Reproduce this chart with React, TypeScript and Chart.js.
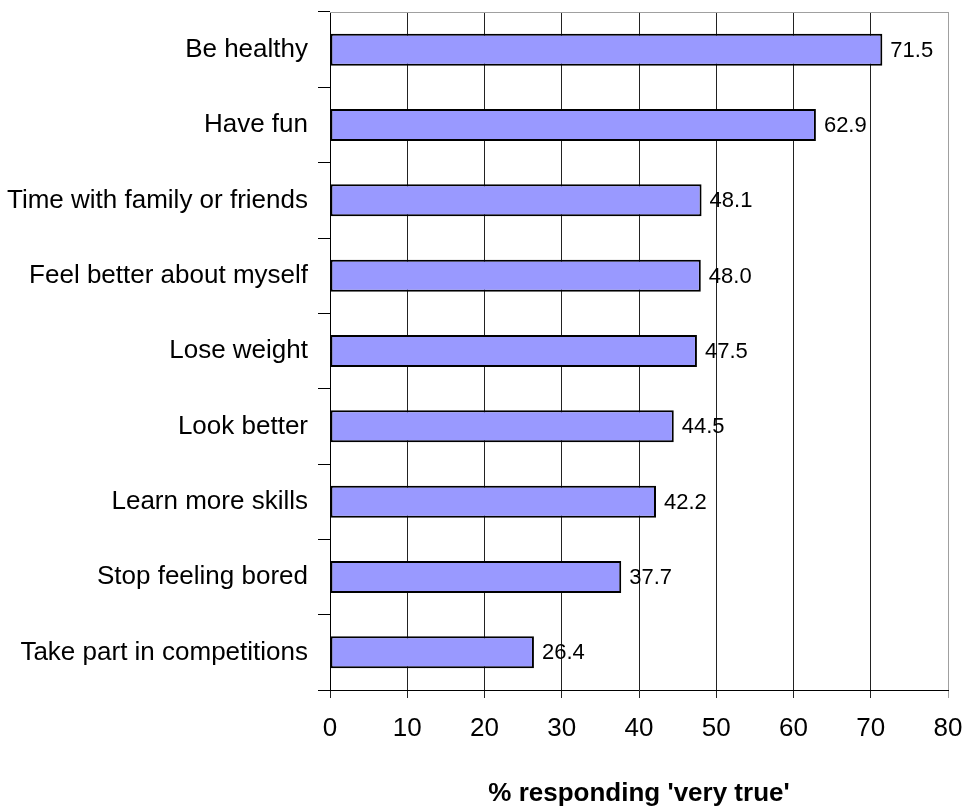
import React, { useEffect, useRef } from "react";
import { Chart, registerables } from "chart.js";

Chart.register(...registerables);

// Reasons for taking part, top to bottom
const categories = [
  "Be healthy",
  "Have fun",
  "Time with family or friends",
  "Feel better about myself",
  "Lose weight",
  "Look better",
  "Learn more skills",
  "Stop feeling bored",
  "Take part in competitions",
];

// Share of respondents answering 'very true' (%)
const percentVeryTrue = [71.5, 62.9, 48.1, 48.0, 47.5, 44.5, 42.2, 37.7, 26.4];

// Horizontal axis range and step
const xMin = 0;
const xMax = 80;
const xStep = 10;

const xAxisTitle = "% responding 'very true'";

const FONT = "'Liberation Sans', Arial, Helvetica, sans-serif";

// Writes each bar's value just past its end
const valueLabels = {
  id: "valueLabels",
  afterDatasetsDraw(chart: any) {
    const { ctx } = chart;
    const meta = chart.getDatasetMeta(0);
    ctx.save();
    ctx.font = `22px ${FONT}`;
    ctx.fillStyle = "#000";
    ctx.textAlign = "left";
    ctx.textBaseline = "middle";
    meta.data.forEach((bar: any, i: number) => {
      const v = chart.data.datasets[0].data[i] as number;
      ctx.fillText(v.toFixed(1), bar.x + 8, bar.y + 1);
    });
    ctx.restore();
  },
};

// Grey frame line along the top of the plot area
const plotFrame = {
  id: "plotFrame",
  beforeDatasetsDraw(chart: any) {
    const { ctx, chartArea } = chart;
    ctx.save();
    ctx.strokeStyle = "#a0a0a0";
    ctx.lineWidth = 1;
    ctx.beginPath();
    ctx.moveTo(chartArea.left, chartArea.top + 0.5);
    ctx.lineTo(chartArea.right + 0.5, chartArea.top + 0.5);
    ctx.stroke();
    ctx.restore();
  },
};

export default function App() {
  const canvasRef = useRef<HTMLCanvasElement | null>(null);

  useEffect(() => {
    const canvas = canvasRef.current;
    if (!canvas) return;
    const chart = new Chart(canvas, {
      type: "bar",
      data: {
        labels: categories,
        datasets: [
          {
            data: percentVeryTrue,
            backgroundColor: "#9999ff",
            borderColor: "#000",
            borderWidth: 2,
            borderSkipped: false,
            barPercentage: 0.425,
            categoryPercentage: 1,
          },
        ],
      },
      options: {
        indexAxis: "y",
        responsive: false,
        animation: false,
        devicePixelRatio: 1,
        layout: { padding: { top: 12, right: 20, left: 0, bottom: 0 } },
        plugins: {
          legend: { display: false },
          tooltip: { enabled: false },
        },
        scales: {
          y: {
            type: "category",
            offset: true,
            grid: {
              display: true,
              offset: true,
              drawOnChartArea: false,
              drawTicks: true,
              tickLength: 12,
              color: "#000",
            },
            border: { display: true, color: "#000", width: 1 },
            ticks: {
              color: "#000",
              padding: 10,
              font: { family: FONT, size: 26 },
            },
            afterFit(scale: any) {
              scale.width = 330;
              scale.paddingTop = 0;
              scale.paddingBottom = 0;
            },
          },
          x: {
            type: "linear",
            min: xMin,
            max: xMax,
            grid: {
              display: true,
              drawTicks: true,
              tickLength: 8,
              color: (c: any) =>
                c.tick && c.tick.value === xMax ? "#a0a0a0" : "#222",
            },
            border: { display: true, color: "#000", width: 1 },
            ticks: {
              stepSize: xStep,
              color: "#000",
              padding: 15,
              font: { family: FONT, size: 26 },
            },
            title: {
              display: true,
              text: xAxisTitle,
              color: "#000",
              padding: { top: 0, bottom: 1 },
              font: { family: FONT, size: 26, weight: "bold" },
            },
            afterFit(scale: any) {
              scale.height = 120;
              scale.paddingLeft = 0;
              scale.paddingRight = 0;
            },
          },
        },
      },
      plugins: [plotFrame, valueLabels],
    });
    return () => chart.destroy();
  }, []);

  return (
    <div
      style={{
        position: "fixed",
        left: 0,
        top: 0,
        width: 968,
        height: 810,
        background: "#fff",
      }}
    >
      <canvas ref={canvasRef} width={968} height={810} />
    </div>
  );
}
